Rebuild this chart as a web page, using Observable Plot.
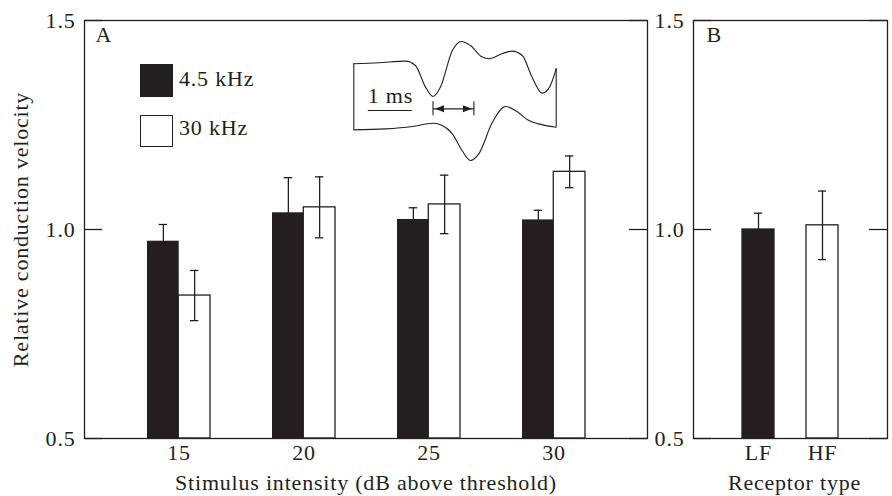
<!DOCTYPE html>
<html><head><meta charset="utf-8">
<script src="https://cdn.jsdelivr.net/npm/d3@7"></script>
<script src="https://cdn.jsdelivr.net/npm/@observablehq/plot@0.6"></script>
<style>
html,body{margin:0;padding:0;background:#fff;}
#wrap{position:relative;width:892px;height:496px;font-family:"Liberation Serif","Times New Roman",serif;color:#231f20;overflow:hidden;}
#wrap svg{position:absolute;top:0;overflow:visible;}
.lg{position:absolute;font-size:22px;line-height:22px;letter-spacing:0.8px;white-space:nowrap;}
.sw{position:absolute;box-sizing:border-box;width:33px;height:33px;}
</style></head><body><div id="wrap"></div>
<script>
// ---- data ----
const intensities = ["15", "20", "25", "30"];
const freqLabels = ["4.5 kHz", "30 kHz"];
const lowMean  = [0.972, 1.040, 1.024, 1.023];
const lowErr   = [0.040, 0.084, 0.028, 0.023];
const highMean = [0.842, 1.053, 1.060, 1.138];
const highErr  = [0.060, 0.073, 0.070, 0.038];
const receptorTypes = ["LF", "HF"];
const receptorMean = [1.000, 1.010];
const receptorErr  = [0.039, 0.082];
const yTicks = [0.5, 1.0, 1.5];
const panelLabels = ["A", "B"];
const xTitleA = "Stimulus intensity (dB above threshold)";
const xTitleB = "Receptor type";
const yTitle = "Relative conduction velocity";
// inset waveform (time in ms, amplitude in arbitrary units)
const waveTopT = [0.00,0.57,1.18,1.40,1.63,1.80,1.97,2.24,2.45,2.65,2.92,3.07,3.37,3.60,3.83,4.05,4.28,4.45,4.60];
const waveTopV = [1.59,1.64,1.72,1.50,0.42,-0.05,0.42,2.25,2.70,2.50,1.92,1.84,2.09,2.22,2.00,0.92,0.12,0.42,1.34];
const waveBotT = [0.00,0.72,1.33,1.80,2.01,2.24,2.46,2.65,2.84,3.15,3.45,3.67,3.98,4.20,4.60];
const waveBotV = [-1.72,-1.67,-1.55,-1.39,-1.50,-1.92,-2.75,-3.25,-2.92,-1.34,-0.55,-0.75,-1.25,-1.42,-1.59];
const scaleBarMs = [0.33, 1.33];   // 1 ms scale bar
const scaleBarLabel = "1 ms";
const latencyMs = [1.80, 2.73];    // latency arrow

// ---- styles ----
const INK = "#231f20";
const FONT = '"Liberation Serif","Times New Roman",serif';
const FS = 22;
const baseStyle = {fontFamily: FONT, fontSize: FS + "px", color: INK, background: "transparent", letterSpacing: "0.8px", overflow: "visible"};
const wrap = document.getElementById("wrap");

const lowRows = intensities.map((k, i) => ({k, v: lowMean[i], e: lowErr[i]}));
const highRows = intensities.map((k, i) => ({k, v: highMean[i], e: highErr[i]}));
const recRows = receptorTypes.map((k, i) => ({k, v: receptorMean[i], e: receptorErr[i], dark: i === 0}));

// ---- Panel A ----
const WA = 660, mLA = 84, mRA = 13, mT = 20, mB = 58, H = 496;
const innerA = WA - mLA - mRA;
const bwA = innerA / (intensities.length - 0.5 + 2 * 0.5) * 0.5;
const cap = 4;
const tickLen = 18;

function errMarks(rows, dx, insL, insR) {
  return [
    Plot.ruleX(rows, {x: "k", y1: d => d.v - d.e, y2: d => d.v + d.e, dx, stroke: INK, strokeWidth: 1.3}),
    Plot.tickY(rows, {x: "k", y: d => d.v + d.e, insetLeft: insL, insetRight: insR, stroke: INK, strokeWidth: 1.3}),
    Plot.tickY(rows, {x: "k", y: d => d.v - d.e, insetLeft: insL, insetRight: insR, stroke: INK, strokeWidth: 1.3})
  ];
}
const txt = {textAnchor: "middle", lineAnchor: "middle", fontSize: FS};

const plotA = Plot.plot({
  width: WA, height: H, marginLeft: mLA, marginRight: mRA, marginTop: mT, marginBottom: mB,
  style: baseStyle,
  x: {type: "band", domain: intensities, paddingInner: 0.5, paddingOuter: 0.5, axis: null},
  y: {domain: [yTicks[0], yTicks[yTicks.length - 1]], axis: null},
  marks: [
    Plot.barY(lowRows, {x: "k", y1: yTicks[0], y2: "v", fill: INK, insetRight: bwA / 2}),
    Plot.barY(highRows, {x: "k", y1: yTicks[0], y2: "v", fill: "white", stroke: INK, strokeWidth: 1.3, insetLeft: bwA / 2}),
    ...errMarks(lowRows, -bwA / 4, bwA / 4 - cap, 3 * bwA / 4 - cap),
    ...errMarks(highRows, bwA / 4, 3 * bwA / 4 - cap, bwA / 4 - cap),
    Plot.tickY(yTicks, {y: d => d, insetRight: innerA - tickLen, stroke: INK, strokeWidth: 1.3}),
    Plot.tickY(yTicks, {y: d => d, insetLeft: innerA - tickLen, stroke: INK, strokeWidth: 1.3}),
    Plot.frame({stroke: INK, strokeWidth: 1.3}),
    Plot.axisY({ticks: yTicks, tickFormat: d3.format(".1f"), tickSize: 0, tickPadding: 9, fontSize: FS, label: null}),
    Plot.axisX({tickSize: 0, tickPadding: 6, fontSize: FS, label: null}),
    Plot.text([panelLabels[0]], {...txt, text: d => d, frameAnchor: "top-left", textAnchor: "start", dx: 11, dy: 14.7}),
    Plot.text([xTitleA], {...txt, text: d => d, frameAnchor: "bottom", dy: 44.6}),
    Plot.text([yTitle], {...txt, text: d => d, frameAnchor: "left", rotate: -90, dx: -64})
  ]
});
plotA.style.left = "0px";
wrap.appendChild(plotA);

// ---- Panel B ----
const WB = 232, mLB = 33, mRB = 5;
const innerB = WB - mLB - mRB;
const plotB = Plot.plot({
  width: WB, height: H, marginLeft: mLB, marginRight: mRB, marginTop: mT, marginBottom: mB,
  style: baseStyle,
  x: {type: "band", domain: receptorTypes, paddingInner: 0.5, paddingOuter: 0.75, axis: null},
  y: {domain: [yTicks[0], yTicks[yTicks.length - 1]], axis: null},
  marks: [
    Plot.barY(recRows, {x: "k", y1: yTicks[0], y2: "v", fill: d => d.dark ? INK : "white", stroke: INK, strokeWidth: 1.3}),
    Plot.ruleX(recRows, {x: "k", y1: d => d.v - d.e, y2: d => d.v + d.e, stroke: INK, strokeWidth: 1.3}),
    Plot.tickY(recRows, {x: "k", y: d => d.v + d.e, insetLeft: 12, insetRight: 12, stroke: INK, strokeWidth: 1.3}),
    Plot.tickY(recRows, {x: "k", y: d => d.v - d.e, insetLeft: 12, insetRight: 12, stroke: INK, strokeWidth: 1.3}),
    Plot.tickY(yTicks, {y: d => d, insetRight: innerB - tickLen, stroke: INK, strokeWidth: 1.3}),
    Plot.tickY(yTicks, {y: d => d, insetLeft: innerB - tickLen, stroke: INK, strokeWidth: 1.3}),
    Plot.frame({stroke: INK, strokeWidth: 1.3}),
    Plot.axisY({ticks: yTicks, tickFormat: d3.format(".1f"), tickSize: 0, tickPadding: 9, fontSize: FS, label: null}),
    Plot.axisX({tickSize: 0, tickPadding: 6, fontSize: FS, label: null}),
    Plot.text([panelLabels[1]], {...txt, text: d => d, frameAnchor: "top-left", textAnchor: "start", dx: 13, dy: 14.7}),
    Plot.text([xTitleB], {...txt, text: d => d, frameAnchor: "bottom", dy: 44.6, dx: 4})
  ]
});
plotB.style.left = WA + "px";
wrap.appendChild(plotB);

// ---- Inset waveform ----
const topPts = waveTopT.map((t, i) => ({t, v: waveTopV[i]}));
const botPts = waveBotT.map((t, i) => ({t, v: waveBotV[i]}));
const edges = [
  {t: waveTopT[0], y1: waveBotV[0], y2: waveTopV[0]},
  {t: waveTopT[waveTopT.length - 1], y1: waveBotV[waveBotV.length - 1], y2: waveTopV[waveTopV.length - 1]}
];
const headLeft = {draw(ctx) { ctx.moveTo(0, 0); ctx.lineTo(9, -3.5); ctx.lineTo(9, 3.5); ctx.closePath(); }};
const headRight = {draw(ctx) { ctx.moveTo(0, 0); ctx.lineTo(-9, -3.5); ctx.lineTo(-9, 3.5); ctx.closePath(); }};
const arrowY = -0.665, barY = -0.75;
const inset = Plot.plot({
  width: 892, height: H, margin: 0,
  style: baseStyle,
  x: {domain: [0, 4.6], range: [353.3, 555.7], axis: null},
  y: {domain: [-3.25, 2.70], range: [160, 41], axis: null},
  marks: [
    Plot.line(topPts, {x: "t", y: "v", curve: "monotone-x", stroke: INK, strokeWidth: 1.1}),
    Plot.line(botPts, {x: "t", y: "v", curve: "monotone-x", stroke: INK, strokeWidth: 1.1}),
    Plot.ruleX(edges, {x: "t", y1: "y1", y2: "y2", stroke: INK, strokeWidth: 1.1}),
    Plot.ruleY([barY], {y: d => d, x1: scaleBarMs[0], x2: scaleBarMs[1], stroke: INK, strokeWidth: 1.1}),
    Plot.text([scaleBarLabel], {...txt, text: d => d, x: (scaleBarMs[0] + scaleBarMs[1]) / 2, y: 0.0}),
    Plot.link([latencyMs], {x1: d => d[0], x2: d => d[1], y1: arrowY, y2: arrowY, stroke: INK, strokeWidth: 1.2}),
    Plot.ruleX(latencyMs, {x: d => d, y1: arrowY + 0.35, y2: arrowY - 0.35, stroke: INK, strokeWidth: 1.1}),
    Plot.dot([latencyMs[0]], {x: d => d, y: arrowY, dx: 2, symbol: headLeft, fill: INK, stroke: "none"}),
    Plot.dot([latencyMs[1]], {x: d => d, y: arrowY, dx: -2, symbol: headRight, fill: INK, stroke: "none"})
  ]
});
inset.style.left = "0px";
inset.style.pointerEvents = "none";
wrap.appendChild(inset);

// ---- Legend (panel A) ----
const swatches = [{fill: INK, top: 64}, {fill: "white", top: 114.5}];
freqLabels.forEach((label, i) => {
  const sw = document.createElement("div");
  sw.className = "sw";
  sw.style.left = "139.5px";
  sw.style.top = swatches[i].top + "px";
  sw.style.background = swatches[i].fill;
  sw.style.border = "1.3px solid " + INK;
  if (i === 1) sw.style.height = "32px";
  wrap.appendChild(sw);
  const tx = document.createElement("div");
  tx.className = "lg";
  tx.style.left = "179px";
  tx.style.top = (i === 0 ? 67.6 : 116.6) + "px";
  tx.textContent = label;
  wrap.appendChild(tx);
});
</script></body></html>
